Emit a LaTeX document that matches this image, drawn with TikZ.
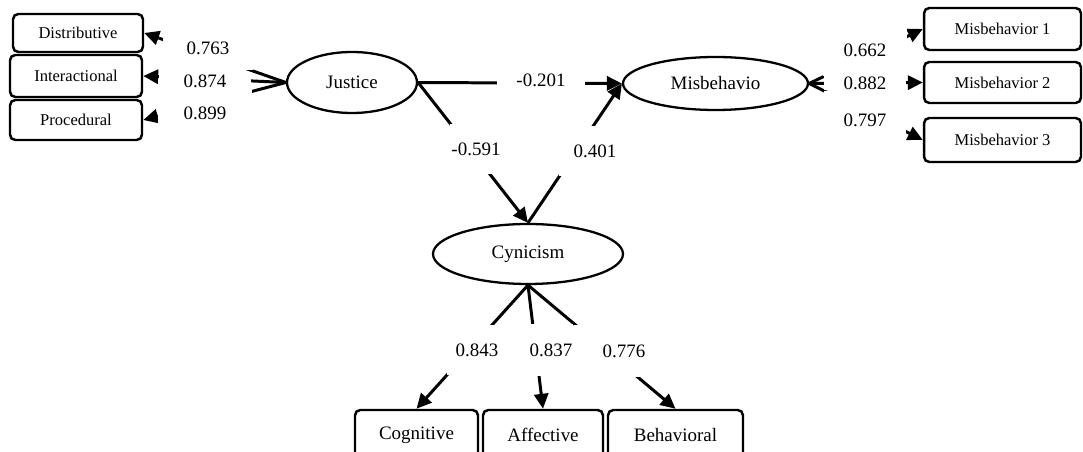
\documentclass[tikz,border=0pt]{standalone}
\usepackage{fontspec}
\setmainfont{Liberation Serif}
\usetikzlibrary{shapes.geometric,arrows.meta}
\begin{document}
\begin{tikzpicture}[x=0.02cm,y=-0.02cm,
	latent/.style={draw,ellipse,line width=1.3pt,inner sep=0pt,font=\fontsize{10.8}{13}\selectfont},
	ind/.style={draw,rounded corners=3pt,line width=1.4pt,inner sep=0pt,font=\fontsize{10.8}{13}\selectfont},
	sind/.style={ind,font=\fontsize{9.4}{11}\selectfont},
	arr/.style={line width=1.7pt,-{Triangle[length=8.5pt,width=8pt]}},
	coef/.style={fill=white,inner sep=0pt,font=\fontsize{10.8}{13}\selectfont}]
	\useasboundingbox (0,0) rectangle (1083,452);
	\node[latent,minimum width=2.6cm,minimum height=1.22cm] (justice) at (352,82.5) {Justice};
	\node[latent,minimum width=3.7cm,minimum height=1.06cm] (misb) at (715.5,83.5) {Misbehavio};
	\node[latent,minimum width=3.8cm,minimum height=1.2cm] (cyn) at (528,254) {Cynicism};
	\node[sind,minimum width=2.6cm,minimum height=0.76cm] (dist) at (78,33) {Distributive};
	\node[sind,minimum width=2.64cm,minimum height=0.84cm] (inter) at (76,76) {Interactional};
	\node[sind,minimum width=2.64cm,minimum height=0.8cm] (proc) at (76,120) {Procedural};
	\node[sind,minimum width=3.14cm,minimum height=0.84cm] (mis1) at (1002.5,29) {Misbehavior 1};
	\node[sind,minimum width=3.14cm,minimum height=0.82cm] (mis2) at (1002.5,82.5) {Misbehavior 2};
	\node[sind,minimum width=3.14cm,minimum height=0.88cm] (mis3) at (1002.5,140) {Misbehavior 3};
	\node[ind,minimum width=2.46cm,minimum height=1cm] (cog) at (416.5,435) {Cognitive};
	\node[ind,minimum width=2.4cm,minimum height=1cm] (aff) at (543,435) {Affective};
	\node[ind,minimum width=2.7cm,minimum height=1cm] (beh) at (675.5,435) {Behavioral};
	\draw[arr] (justice.west) -- (dist.east);
	\draw[arr] (justice.west) -- (inter.east);
	\draw[arr] (justice.west) -- (proc.east);
	\draw[arr] (misb.east) -- (mis1.west);
	\draw[arr] (misb.east) -- (mis2.west);
	\draw[arr] (misb.east) -- (mis3.west);
	\draw[arr] (justice.east) -- (misb.west);
	\draw[arr] (justice.east) -- (cyn.north);
	\draw[arr] (cyn.north) -- (misb.west);
	\draw[arr] (cyn.south) -- (cog.north);
	\draw[arr] (cyn.south) -- (aff.north);
	\draw[arr] (cyn.south) -- (beh.north);
	\node[coef,minimum width=1.8cm,minimum height=0.88cm] (l763) at (208,48) {0.763};
	\node[coef,minimum width=1.84cm,minimum height=0.32cm] (l874) at (205,81) {0.874};
	\node[coef,minimum width=1.88cm,minimum height=0.92cm] (l899) at (205,113) {0.899};
	\node[coef,minimum width=1.76cm,minimum height=0.4cm] (l201) at (541,80) {-0.201};
	\node[coef,minimum width=1.04cm,minimum height=1cm] (l591) at (476,149) {-0.591};
	\node[coef,minimum width=1.44cm,minimum height=1cm] (l401) at (595,151) {0.401};
	\node[coef,minimum width=1.68cm,minimum height=1.04cm] (l662) at (865,50) {0.662};
	\node[coef,minimum width=1.64cm,minimum height=0.3cm] (l882) at (865,83) {0.882};
	\node[coef,minimum width=1.64cm,minimum height=1.16cm] (l797) at (865,120) {0.797};
	\node[coef,minimum width=1.2cm,minimum height=1cm] (l843) at (477,350) {0.843};
	\node[coef,minimum width=0.88cm,minimum height=1.04cm] (l837) at (551,350) {0.837};
	\node[coef,minimum width=2cm,minimum height=1.04cm] (l776) at (624,351) {0.776};
\end{tikzpicture}
\end{document}
